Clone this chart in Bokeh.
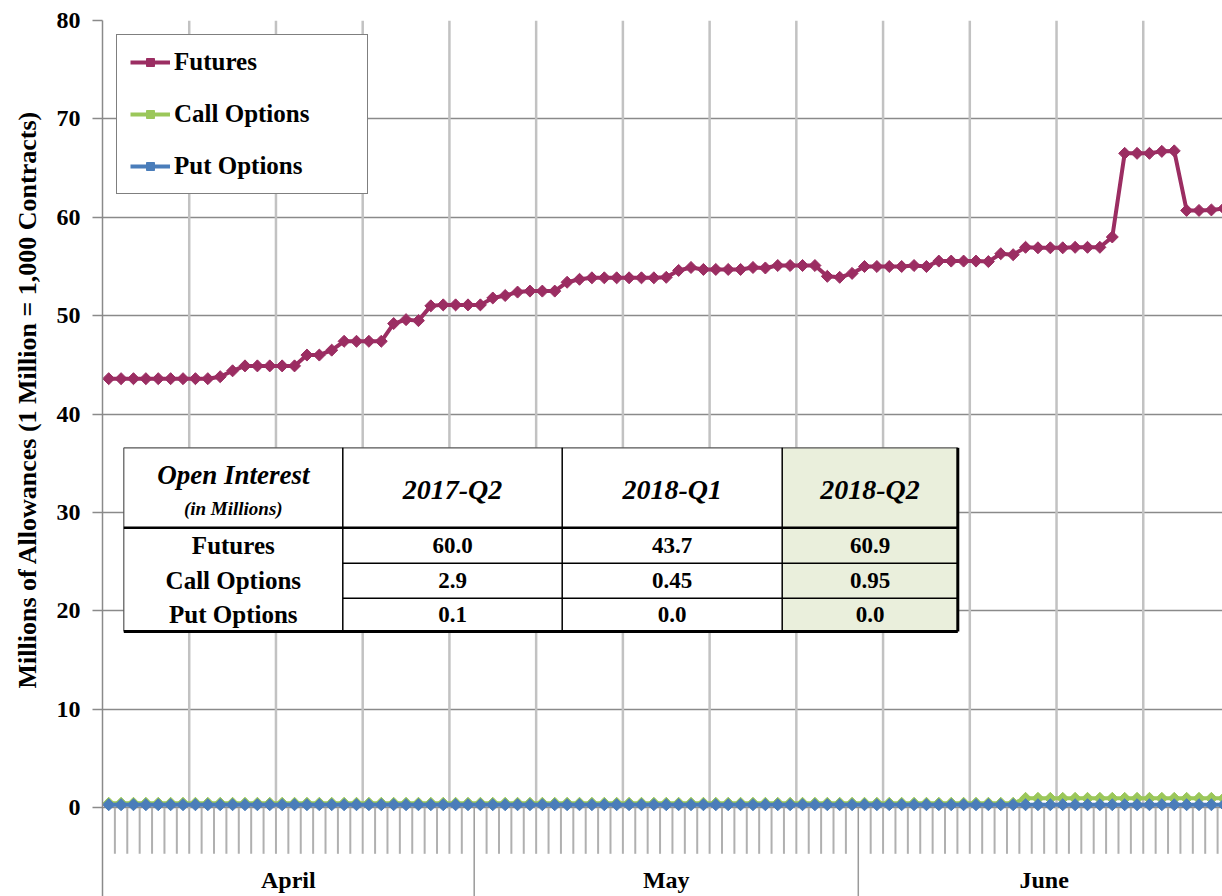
import numpy as np
from bokeh.plotting import figure
from bokeh.models import Range1d, FixedTicker, Legend, LegendItem, Title
from bokeh.core.properties import value
from bokeh.embed import file_html
from bokeh.resources import INLINE

# ---------------- data ----------------
months = ["April", "May", "June"]
month_days = [30, 31, 30]

futures = [
    43.6, 43.6, 43.6, 43.6, 43.6, 43.6, 43.6, 43.6, 43.6, 43.8,
    44.4, 44.9, 44.9, 44.9, 44.9, 44.9, 46.0, 46.0, 46.5, 47.4,
    47.4, 47.4, 47.4, 49.2, 49.6, 49.5, 51.0, 51.1, 51.1, 51.1,
    51.1, 51.8, 52.05, 52.4, 52.5, 52.5, 52.5, 53.4, 53.7, 53.85,
    53.85, 53.85, 53.85, 53.85, 53.85, 53.9, 54.6, 54.9, 54.7, 54.7,
    54.7, 54.7, 54.9, 54.85, 55.1, 55.1, 55.1, 55.1, 54.0, 53.9,
    54.3, 55.0, 55.0, 55.0, 55.0, 55.1, 55.0, 55.55, 55.55, 55.55,
    55.55, 55.5, 56.3, 56.2, 56.95, 56.9, 56.9, 56.9, 56.95, 56.95,
    56.95, 58.0, 66.5, 66.5, 66.5, 66.7, 66.75, 60.7, 60.7, 60.75,
    60.9,
]
call_options = [
    0.45, 0.45, 0.45, 0.45, 0.45, 0.45, 0.45, 0.45, 0.45, 0.45,
    0.45, 0.45, 0.45, 0.45, 0.45, 0.45, 0.45, 0.45, 0.45, 0.45,
    0.45, 0.45, 0.45, 0.45, 0.45, 0.45, 0.45, 0.45, 0.45, 0.45,
    0.45, 0.45, 0.45, 0.45, 0.45, 0.45, 0.45, 0.45, 0.45, 0.45,
    0.45, 0.45, 0.45, 0.45, 0.45, 0.45, 0.45, 0.45, 0.45, 0.45,
    0.45, 0.45, 0.45, 0.45, 0.45, 0.45, 0.45, 0.45, 0.45, 0.45,
    0.45, 0.45, 0.45, 0.45, 0.45, 0.45, 0.45, 0.45, 0.45, 0.45,
    0.45, 0.45, 0.45, 0.45, 0.95, 0.95, 0.95, 0.95, 0.95, 0.95,
    0.95, 0.95, 0.95, 0.95, 0.95, 0.95, 0.95, 0.95, 0.95, 0.95,
    0.95,
]
put_options = [
    0.3, 0.3, 0.3, 0.3, 0.3, 0.3, 0.3, 0.3, 0.3, 0.3,
    0.3, 0.3, 0.3, 0.3, 0.3, 0.3, 0.3, 0.3, 0.3, 0.3,
    0.3, 0.3, 0.3, 0.3, 0.3, 0.3, 0.3, 0.3, 0.3, 0.3,
    0.3, 0.3, 0.3, 0.3, 0.3, 0.3, 0.3, 0.3, 0.3, 0.3,
    0.3, 0.3, 0.3, 0.3, 0.3, 0.3, 0.3, 0.3, 0.3, 0.3,
    0.3, 0.3, 0.3, 0.3, 0.3, 0.3, 0.3, 0.3, 0.3, 0.3,
    0.3, 0.3, 0.3, 0.3, 0.3, 0.3, 0.3, 0.3, 0.3, 0.3,
    0.3, 0.3, 0.3, 0.3, 0.3, 0.3, 0.3, 0.3, 0.3, 0.3,
    0.3, 0.3, 0.3, 0.3, 0.3, 0.3, 0.3, 0.3, 0.3, 0.3,
    0.3,
]
y_ticks = [0, 10, 20, 30, 40, 50, 60, 70, 80]

table_columns = ["2017-Q2", "2018-Q1", "2018-Q2"]
table_rows = ["Futures", "Call Options", "Put Options"]
table_q2017 = ["60.0", "2.9", "0.1"]
table_q12018 = ["43.7", "0.45", "0.0"]
table_q22018 = ["60.9", "0.95", "0.0"]

# ---------------- layout ----------------
W, H = 1222, 896
FL, FT = 102, 20             # frame left / top inside figure
FW, FH = W - FL, H - FT
PXD = 12.39                  # px per day
PXU = (807.2 - 20) / 80.0    # px per unit
IMG_X0, IMG_Y0 = FL, 807.2

x_end = FW / PXD
y_start = 80 - FH / PXU

def dx(ix):
    return (ix - IMG_X0) / PXD

def dy(iy):
    return (IMG_Y0 - iy) / PXU

FONT = value("Liberation Serif")
FUT_C, CALL_C, PUT_C = "#9B2D62", "#9BC75A", "#4A7DBA"

p = figure(width=W, height=H, x_range=Range1d(0, x_end), y_range=Range1d(y_start, 80),
           output_backend="svg", toolbar_location=None, x_axis_location=None,
           min_border_left=FL, min_border_top=FT, min_border_bottom=0, min_border_right=0)
p.outline_line_color = None
p.xgrid.visible = False
p.background_fill_color = "white"

p.yaxis.ticker = FixedTicker(ticks=y_ticks)
p.ygrid.ticker = FixedTicker(ticks=y_ticks)
p.ygrid.grid_line_color = "#8a8a8a"
p.ygrid.grid_line_width = 1.5
p.yaxis.major_tick_out = 10
p.yaxis.major_tick_in = 0
p.yaxis.minor_tick_out = 0
p.yaxis.minor_tick_in = 0
p.yaxis.major_tick_line_color = "#8a8a8a"
p.yaxis.major_tick_line_width = 1.5
p.yaxis.axis_line_color = "#8a8a8a"
p.yaxis.axis_line_width = 1.5
p.yaxis.major_label_standoff = 12
p.yaxis.major_label_text_font = "Liberation Serif"
p.yaxis.major_label_text_font_style = "bold"
p.yaxis.major_label_text_font_size = "24px"
p.yaxis.major_label_text_color = "black"

p.add_layout(Title(text="Millions of Allowances  (1 Million = 1,000 Contracts)",
                   text_font="Liberation Serif", text_font_style="bold",
                   text_font_size="26px", text_color="black", align="left", offset=208,
                   vertical_align="top", standoff=20), "left")

# ---------------- grid, ticks, month dividers ----------------
bounds = np.cumsum([0] + month_days)
n_days = len(futures)
week_lines = [d for d in range(7, n_days, 7)]
p.segment(x0=week_lines, y0=[0] * len(week_lines), x1=week_lines, y1=[80] * len(week_lines),
          line_color="#c2c2c2", line_width=2.5)

day_ticks = [d for d in range(1, n_days) if d not in bounds]
p.segment(x0=day_ticks, y0=[0] * len(day_ticks), x1=day_ticks,
          y1=[dy(853.3)] * len(day_ticks), line_color="#b0b0b0", line_width=2)
mb = [int(b) for b in bounds[1:-1]]
p.segment(x0=mb, y0=[0] * len(mb), x1=mb, y1=[y_start] * len(mb),
          line_color="#9a9a9a", line_width=1.5)

month_centers = [(bounds[i] + bounds[i + 1]) / 2 for i in range(len(months))]
p.text(x=month_centers, y=[dy(879)] * len(months), text=months, text_align="center",
       text_baseline="middle", text_font=FONT, text_font_style="bold",
       text_font_size="24px", text_color="black")

# ---------------- series ----------------
days = np.arange(n_days) + 0.5
items = []
for name, vals, col in [("Futures", futures, FUT_C), ("Call Options", call_options, CALL_C),
                        ("Put Options", put_options, PUT_C)]:
    lr = p.line(days, vals, line_color=col, line_width=4)
    sr = p.scatter(days, vals, marker="square", angle=np.pi / 4, size=8.5,
                   fill_color=col, line_color=col)
    items.append(LegendItem(label=name, renderers=[lr, sr]))

legend = Legend(items=items, location="top_left", margin=14, padding=13, spacing=24,
                glyph_width=40, glyph_height=20, label_standoff=4, label_width=180,
                label_text_font="Liberation Serif", label_text_font_style="bold",
                label_text_font_size="25px", label_text_color="black",
                border_line_color="black", border_line_width=1.2, background_fill_alpha=1)
p.add_layout(legend)

# ---------------- table ----------------
cols_img = [123.3, 342.3, 561.7, 781.7, 957.3]
rows_img = [447.3, 527.3, 562.7, 597.7, 631.0]
cx = [dx(c) for c in cols_img]
ry = [dy(r) for r in rows_img]
p.quad(left=[cx[0]], right=[cx[-1]], top=[ry[0]], bottom=[ry[-1]],
       fill_color="white", line_color=None)
p.quad(left=[cx[3]], right=[cx[4]], top=[ry[0]], bottom=[ry[-1]],
       fill_color="#EAEFDC", line_color=None)
# thin outer lines
p.segment(x0=[cx[0], cx[0]], y0=[ry[0], ry[0]], x1=[cx[-1], cx[0]], y1=[ry[0], ry[-1]],
          line_color="#555555", line_width=1.2)
# column dividers
p.segment(x0=cx[1:4], y0=[ry[0]] * 3, x1=cx[1:4], y1=[ry[-1]] * 3,
          line_color="black", line_width=1.5)
# header bottom
p.segment(x0=[cx[0]], y0=[ry[1]], x1=[cx[-1]], y1=[ry[1]], line_color="black", line_width=2.5)
# row separators (value columns only)
p.segment(x0=[cx[1], cx[1]], y0=[ry[2], ry[3]], x1=[cx[-1], cx[-1]], y1=[ry[2], ry[3]],
          line_color="black", line_width=1.5)
# thick bottom and right
p.segment(x0=[cx[0], cx[-1]], y0=[ry[-1], ry[0]], x1=[cx[-1], cx[-1]], y1=[ry[-1], ry[-1]],
          line_color="black", line_width=3)

col_centers = [(cx[i] + cx[i + 1]) / 2 for i in range(4)]
row_centers = [(ry[i + 1] + ry[i + 2]) / 2 for i in range(3)]

p.text(x=[col_centers[0]], y=[dy(474)], text=["Open Interest"], text_align="center",
       text_baseline="middle", text_font=FONT, text_font_style="bold italic",
       text_font_size="27px", text_color="black")
p.text(x=[col_centers[0]], y=[dy(508)], text=["(in Millions)"], text_align="center",
       text_baseline="middle", text_font=FONT, text_font_style="bold italic",
       text_font_size="19px", text_color="black")
p.text(x=col_centers[1:], y=[dy(489)] * 3, text=table_columns, text_align="center",
       text_baseline="middle", text_font=FONT, text_font_style="bold italic",
       text_font_size="28px", text_color="black")
p.text(x=[col_centers[0]] * 3, y=row_centers, text=table_rows, text_align="center",
       text_baseline="middle", text_font=FONT, text_font_style="bold",
       text_font_size="25px", text_color="black")
for ci, vals in zip(col_centers[1:], [table_q2017, table_q12018, table_q22018]):
    p.text(x=[ci] * 3, y=row_centers, text=vals, text_align="center",
           text_baseline="middle", text_font=FONT, text_font_style="bold",
           text_font_size="23px", text_color="black")

open("out.html", "w").write(file_html(p, INLINE))
